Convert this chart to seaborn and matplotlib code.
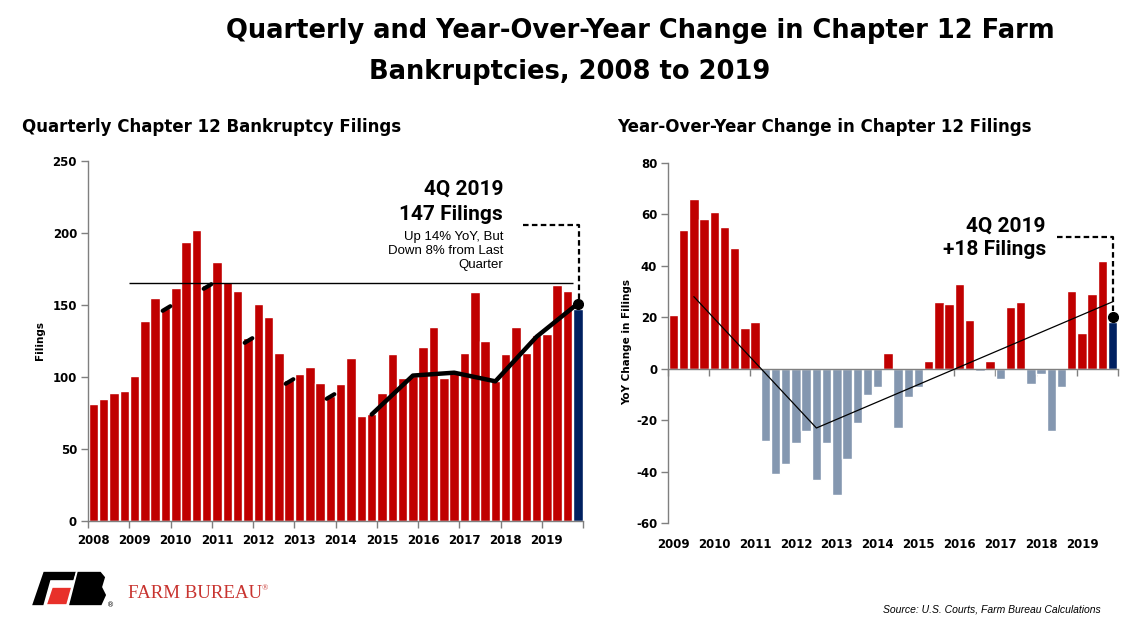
import matplotlib
matplotlib.use("Agg")
import matplotlib.pyplot as plt
import numpy as np
import pandas as pd
import seaborn as sns
from matplotlib.path import Path
from matplotlib.markers import MarkerStyle
from matplotlib.patches import Polygon
from matplotlib.transforms import blended_transform_factory

# ---------------- data ----------------
years = [2008, 2009, 2010, 2011, 2012, 2013, 2014, 2015, 2016, 2017, 2018, 2019]
quarters = [f"{q}Q {y}" for y in years for q in (1, 2, 3, 4)]
filings = [81, 85, 89, 90,
           101, 139, 155, 148,
           162, 194, 202, 164,
           180, 166, 160, 127,
           151, 142, 117, 98,
           102, 107, 96, 87,
           95, 113, 73, 74,
           89, 116, 99, 101,
           121, 135, 99, 103,
           117, 159, 125, 97,
           116, 135, 117, 129,
           130, 164, 160, 147]

yoy_years = years[1:]
yoy_quarters = quarters[4:]
yoy_change = [21, 54, 66, 58,
              61, 55, 47, 16,
              18, -28, -41, -37,
              -29, -24, -43, -29,
              -49, -35, -21, -10,
              -7, 6, -23, -11,
              -7, 3, 26, 25,
              33, 19, -1, 3,
              -4, 24, 26, -6,
              -2, -24, -7, 30,
              14, 29, 42, 18]

# Q4 trend line (left panel)
q4_early_quarters = ["4Q 2009", "4Q 2010", "4Q 2011", "4Q 2012", "4Q 2013"]
q4_early_values = [148, 163, 126, 97, 87]
q4_line_quarters = ["4Q 2014", "4Q 2015", "4Q 2016", "4Q 2017", "4Q 2018", "4Q 2019"]
q4_line_values = [74, 101, 103, 97, 128, 151]
ref_level = 165
ref_span = ["1Q 2009", "3Q 2019"]

# trend line (right panel)
yoy_trend_quarters = ["3Q 2009", "3Q 2012", "4Q 2019"]
yoy_trend_values = [28, -23, 26]
yoy_last_dot = 20

RED = "#C00000"
NAVY = "#002060"
SLATE = "#8497B0"

# ---------------- style ----------------
sns.set_style("white")
plt.rcParams["font.family"] = ["DejaVu Sans"]
plt.rcParams["text.color"] = "black"
plt.rcParams["axes.labelcolor"] = "black"
plt.rcParams["xtick.color"] = "black"
plt.rcParams["ytick.color"] = "black"
plt.rcParams["axes.unicode_minus"] = False

W, H = 1139, 630
fig = plt.figure(figsize=(W / 100, H / 100), dpi=100)


def fx(px):
    return px / W


def fy(py):
    return 1 - py / H


CALL_FONT = ["Roboto", "DejaVu Sans"]

axL = fig.add_axes([fx(88.2), fy(521), (583 - 88.2) / W, 360 / H])
axR = fig.add_axes([fx(668.3), fy(523.3), (1117.7 - 668.3) / W, 360.6 / H])

# ---------------- left panel ----------------
dfL = pd.DataFrame({"quarter": quarters, "filings": filings})
dfL["kind"] = ["latest" if q == quarters[-1] else "hist" for q in quarters]
sns.barplot(data=dfL, x="quarter", y="filings", hue="kind", order=quarters,
            palette={"hist": RED, "latest": NAVY}, dodge=False, width=0.92,
            saturation=1, legend=False, ax=axL, zorder=2)

posL = {q: i for i, q in enumerate(quarters)}
axL.set_xlim(-0.5, len(quarters) - 0.5)
axL.set_ylim(0, 250)
axL.set_yticks(np.arange(0, 251, 50))
axL.set_xticks([posL[f"1Q {y}"] for y in years])
axL.set_xticklabels([])
axL.set_xticks(np.arange(-0.5, len(quarters), 4), minor=True)
axL.tick_params(axis="x", which="major", length=0)
axL.tick_params(axis="x", which="minor", length=5, width=1, color="#7f7f7f", direction="out", bottom=True)
axL.tick_params(axis="y", length=5, width=1, color="#7f7f7f", labelcolor="black", direction="out",
                left=True, pad=3, labelsize=8.5)
for lab in axL.get_yticklabels():
    lab.set_fontweight("bold")
for s in ["top", "right"]:
    axL.spines[s].set_visible(False)
for s in ["left", "bottom"]:
    axL.spines[s].set_color("#7f7f7f")
    axL.spines[s].set_linewidth(1)
axL.set_xlabel("")
axL.set_ylabel("")
transL = blended_transform_factory(axL.transData, axL.transAxes)
for y in years:
    axL.text(posL[f"1Q {y}"], -0.054, str(y), transform=transL, ha="center", va="center",
             fontsize=8.5, fontweight="bold")
fig.text(fx(40), fy(341), "Filings", rotation=90, ha="center", va="center",
         fontsize=7.5, fontweight="bold")

# reference line
axL.hlines(ref_level, posL[ref_span[0]] - 0.5, posL[ref_span[1]] + 0.5, color="black", lw=1, zorder=3)

# early Q4 markers (short slanted dashes)
dash = MarkerStyle(Path([[-1, -0.6], [1, 0.6]]), capstyle="round")
axL.plot([posL[q] for q in q4_early_quarters], q4_early_values, linestyle="none",
         marker=dash, markersize=5.5, markeredgewidth=3, color="black", zorder=4)
# Q4 trend line
xs = [posL[q] for q in q4_line_quarters]
axL.plot(xs, q4_line_values, color="black", lw=3.2, solid_capstyle="round", zorder=4)
axL.plot(xs[-1], q4_line_values[-1], "o", color="black", markersize=7, zorder=5)

# callout
call_level = 205.5
axL.plot([xs[-1] - 5.3, xs[-1] + 0.1, xs[-1] + 0.1], [call_level, call_level, q4_line_values[-1]],
         color="black", lw=1.6, linestyle=(0, (2.5, 1.5)), zorder=5, clip_on=False)

fig.text(fx(503), fy(189), "4Q 2019", ha="right", va="center", fontsize=15, fontweight="bold",
         family=CALL_FONT)
fig.text(fx(503), fy(215), "147 Filings", ha="right", va="center", fontsize=15, fontweight="bold",
         family=CALL_FONT)
fig.text(fx(503), fy(251), "Up 14% YoY, But\nDown 8% from Last\nQuarter", ha="right", va="center",
         fontsize=9.5, family=["Liberation Sans", "DejaVu Sans"], linespacing=1.2)

# ---------------- right panel ----------------
dfR = pd.DataFrame({"quarter": yoy_quarters, "change": yoy_change})
dfR["kind"] = ["latest" if q == yoy_quarters[-1] else ("up" if v >= 0 else "down")
               for q, v in zip(yoy_quarters, yoy_change)]
sns.barplot(data=dfR, x="quarter", y="change", hue="kind", order=yoy_quarters,
            palette={"up": RED, "down": SLATE, "latest": NAVY}, dodge=False, width=0.92,
            saturation=1, legend=False, ax=axR, zorder=2)
posR = {q: i for i, q in enumerate(yoy_quarters)}
axR.set_xlim(-0.5, len(yoy_quarters) - 0.5)
axR.set_ylim(-60, 80)
axR.set_yticks(np.arange(-60, 81, 20))
axR.set_xticks(np.arange(-0.5, len(yoy_quarters), 4))
axR.set_xticklabels([])
axR.tick_params(axis="x", length=5, width=1, color="#7f7f7f", direction="out", bottom=True)
axR.tick_params(axis="y", length=5, width=1, color="#7f7f7f", labelcolor="black", direction="out",
                left=True, pad=3, labelsize=8.5)
for lab in axR.get_yticklabels():
    lab.set_fontweight("bold")
for s in ["top", "right"]:
    axR.spines[s].set_visible(False)
axR.spines["bottom"].set_position(("data", 0))
for s in ["left", "bottom"]:
    axR.spines[s].set_color("#7f7f7f")
    axR.spines[s].set_linewidth(1)
axR.set_xlabel("")
axR.set_ylabel("")
transR = blended_transform_factory(axR.transData, axR.transAxes)
for y in yoy_years:
    axR.text(posR[f"1Q {y}"], -0.06, str(y), transform=transR, ha="center", va="center",
             fontsize=8.5, fontweight="bold")
fig.text(fx(627), fy(342), "YoY Change in Filings", rotation=90, ha="center", va="center",
         fontsize=7.5, fontweight="bold")

axR.plot([posR[q] for q in yoy_trend_quarters], yoy_trend_values, color="black", lw=0.9, zorder=4)
lastR = posR[yoy_quarters[-1]]
axR.plot(lastR, yoy_last_dot, "o", color="black", markersize=7, zorder=5)
call_r = 51
axR.plot([lastR - 5.4, lastR, lastR], [call_r, call_r, yoy_last_dot], color="black", lw=1.6,
         linestyle=(0, (2.5, 1.5)), zorder=5, clip_on=False)
fig.text(fx(1046), fy(226), "4Q 2019", ha="right", va="center", fontsize=15, fontweight="bold",
         family=CALL_FONT)
fig.text(fx(1046), fy(250), "+18 Filings", ha="right", va="center", fontsize=15, fontweight="bold",
         family=CALL_FONT)

# ---------------- titles & footer ----------------
fig.text(fx(640), fy(31), "Quarterly and Year-Over-Year Change in Chapter 12 Farm",
         ha="center", va="center", fontsize=18.5, fontweight="bold")
fig.text(fx(570), fy(72), "Bankruptcies, 2008 to 2019",
         ha="center", va="center", fontsize=18.5, fontweight="bold")
fig.text(fx(22), fy(127), "Quarterly Chapter 12 Bankruptcy Filings", ha="left", va="center",
         fontsize=12, fontweight="bold")
fig.text(fx(617), fy(127), "Year-Over-Year Change in Chapter 12 Filings", ha="left", va="center",
         fontsize=12, fontweight="bold")

fig.text(fx(1101), fy(609), "Source: U.S. Courts, Farm Bureau Calculations", ha="right", va="center",
         fontsize=7.5, style="italic", family=["Liberation Sans", "DejaVu Sans"])

# logo (decorative approximation)
def logo_poly(pts, color):
    fig.patches.append(Polygon([(fx(x), fy(y)) for x, y in pts], closed=True,
                               transform=fig.transFigure, facecolor=color,
                               edgecolor="white", linewidth=1.2))

logo_poly([(43, 571), (77, 571), (74, 581), (51, 581), (44, 606), (31, 606)], "black")
logo_poly([(52, 587), (72, 587), (67, 605), (46, 605)], "#E8302A")
logo_poly([(77, 571), (101, 571), (106, 577), (103, 587), (107, 595), (102, 606), (68, 606)], "black")
fig.text(fx(107), fy(605), "®", ha="left", va="center", fontsize=5, color="black")
fig.text(fx(128), fy(593), "FARM BUREAU", ha="left", va="center", fontsize=13.6,
         color="#C8332F", family=["Liberation Serif", "DejaVu Serif"])
fig.text(fx(262), fy(588), "®", ha="left", va="center", fontsize=6,
         color="#C8332F", family=["Liberation Serif", "DejaVu Serif"])

fig.savefig("out.png", dpi=100)
